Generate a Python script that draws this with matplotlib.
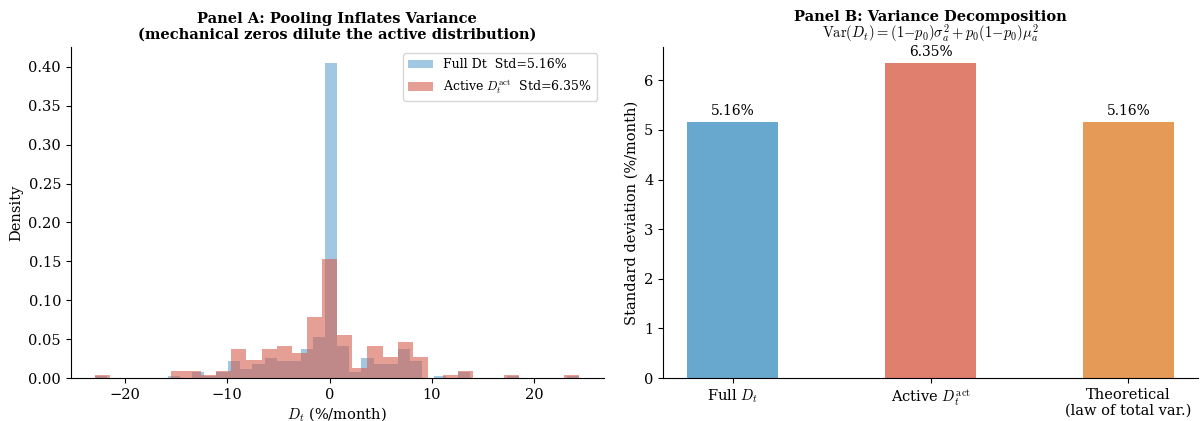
import numpy as np
import matplotlib
matplotlib.use("Agg")
import matplotlib.pyplot as plt

plt.rcParams['font.family'] = ['DejaVu Serif']
plt.rcParams['mathtext.fontset'] = 'cm'

# ---------------- data ----------------
data_min = -22.93
data_max = 24.43

# Full D_t histogram (40 bins, density)
full_density = [0.0028, 0, 0, 0, 0, 0, 0.0028, 0, 0.0073, 0.0028,
                0.0073, 0.0215, 0.0112, 0.0177, 0.0254, 0.0215, 0.0215, 0.037, 0.0525, 0.405,
                0.041, 0.0073, 0.0254, 0.0177, 0.0177, 0.037, 0.0215, 0, 0.0028, 0,
                0.0073, 0, 0, 0, 0.0028, 0, 0, 0, 0, 0.0028]

# Active D_t histogram (32 bins, density)
active_density = [0.0035, 0, 0, 0, 0, 0.0086, 0.0086, 0.0035, 0.0086, 0.037,
                  0.0228, 0.037, 0.041, 0.032, 0.078, 0.153, 0.055, 0.0125, 0.041, 0.0267,
                  0.046, 0.0267, 0, 0.0035, 0.0086, 0, 0, 0.0035, 0, 0,
                  0, 0.0035]

full_std = 5.16
active_std = 6.35

bar_categories = ["Full $D_t$", "Active $D_t^{\\mathrm{act}}$", "Theoretical\n(law of total var.)"]
bar_values = [5.16, 6.35, 5.16]

# ---------------- figure ----------------
fig = plt.figure(figsize=(12, 4.21), dpi=100)
axA = fig.add_axes([0.059, 0.102, 0.444, 0.786])
axB = fig.add_axes([0.5525, 0.102, 0.446, 0.786])

full_edges = np.linspace(data_min, data_max, len(full_density) + 1)
act_edges = np.linspace(data_min, data_max, len(active_density) + 1)
full_centers = 0.5 * (full_edges[:-1] + full_edges[1:])
act_centers = 0.5 * (act_edges[:-1] + act_edges[1:])

axA.hist(full_centers, bins=full_edges, weights=full_density, color='#2E86C1', alpha=0.45,
         label=f"Full Dt  Std={full_std:.2f}%")
axA.hist(act_centers, bins=act_edges, weights=active_density, color='#D6604D', alpha=0.6,
         label=f"Active $D_t^{{\\mathrm{{act}}}}$  Std={active_std:.2f}%")

axA.set_xlabel("$D_t$ (%/month)", fontsize=10.5, labelpad=2)
axA.set_ylabel("Density", fontsize=10.5)
axA.set_title("Panel A: Pooling Inflates Variance\n(mechanical zeros dilute the active distribution)",
              fontsize=10.5, fontweight='bold')
axA.tick_params(labelsize=10.5)
axA.legend(fontsize=9, loc='upper right')
axA.spines['top'].set_visible(False)
axA.spines['right'].set_visible(False)

bar_colors = ['#68A8CE', '#E07F6E', '#E69A58']
x = np.arange(len(bar_values))
bars = axB.bar(x, bar_values, width=0.46, color=bar_colors)
for xi, v in zip(x, bar_values):
    axB.text(xi, v + 0.07, f"{v:.2f}%", ha='center', va='bottom', fontsize=10)
axB.set_xticks(x)
axB.set_xticklabels(bar_categories, fontsize=10.5)
axB.tick_params(axis='y', labelsize=10.5)
axB.set_ylabel("Standard deviation (%/month)", fontsize=10.5)
axB.set_title("Panel B: Variance Decomposition", fontsize=10.5, fontweight='bold', pad=19)
axB.text(0.5, 1.03, "$\\mathrm{Var}(D_t) = (1{-}p_0)\\sigma_a^2 + p_0(1{-}p_0)\\mu_a^2$",
         transform=axB.transAxes, ha='center', va='baseline', fontsize=10.5)
axB.spines['top'].set_visible(False)
axB.spines['right'].set_visible(False)

fig.savefig("out.png", dpi=100)
